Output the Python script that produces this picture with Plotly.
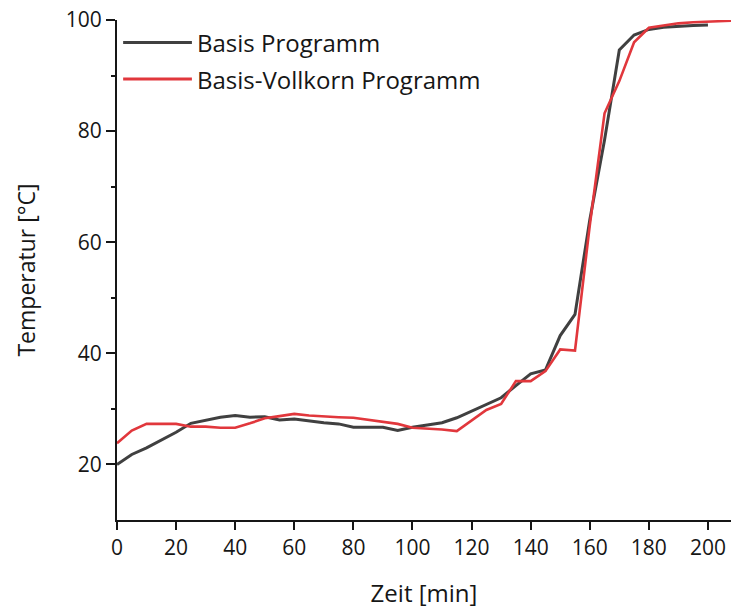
import plotly.graph_objects as go

# Zeit in Minuten (5-Minuten-Raster)
zeit_basis = [0, 5, 10, 15, 20, 25, 30, 35, 40, 45, 50, 55, 60, 65, 70, 75, 80,
              85, 90, 95, 100, 105, 110, 115, 120, 125, 130, 135, 140, 145, 150,
              155, 160, 165, 170, 175, 180, 185, 190, 195, 200]
temp_basis = [20.0, 21.8, 23.0, 24.4, 25.8, 27.4, 28.0, 28.5, 28.8, 28.5, 28.6,
              28.0, 28.2, 27.8, 27.5, 27.3, 26.7, 26.7, 26.7, 26.1, 26.7, 27.1,
              27.5, 28.4, 29.6, 30.7, 32.0, 34.2, 36.3, 37.0, 43.2, 47.0, 64.0,
              78.4, 94.6, 97.3, 98.3, 98.7, 98.9, 99.0, 99.1]

zeit_vollkorn = [0, 5, 10, 15, 20, 25, 30, 35, 40, 45, 50, 55, 60, 65, 70, 75,
                 80, 85, 90, 95, 100, 105, 110, 115, 120, 125, 130, 135, 140,
                 145, 150, 155, 160, 165, 170, 175, 180, 185, 190, 195, 200,
                 205, 210]
temp_vollkorn = [23.8, 26.1, 27.3, 27.3, 27.3, 26.8, 26.8, 26.6, 26.6, 27.4,
                 28.3, 28.7, 29.1, 28.8, 28.6, 28.5, 28.4, 28.0, 27.7, 27.3,
                 26.6, 26.5, 26.3, 26.0, 27.9, 29.8, 30.9, 35.0, 35.0, 36.8,
                 40.7, 40.5, 63.0, 83.2, 89.0, 96.0, 98.6, 99.0, 99.4, 99.6,
                 99.7, 99.8, 99.9]

serien = ["Basis Programm", "Basis-Vollkorn Programm"]
farben = ["#404040", "#e1373c"]

x_ticks = list(range(0, 201, 20))
y_ticks = [20, 40, 60, 80, 100]

FONT = "Open Sans"
TEXT = "#161616"

fig = go.Figure()
fig.add_trace(go.Scatter(x=zeit_basis, y=temp_basis, mode="lines", name=serien[0],
                         line=dict(color=farben[0], width=3)))
fig.add_trace(go.Scatter(x=zeit_vollkorn, y=temp_vollkorn, mode="lines", name=serien[1],
                         line=dict(color=farben[1], width=2.6)))

# Legende als Linienmuster + Text oben links im Diagramm
legend_y = [0.955, 0.882]
for name, farbe, ly in zip(serien, farben, legend_y):
    fig.add_shape(type="line", xref="paper", yref="paper",
                  x0=0.010, x1=0.122, y0=ly, y1=ly,
                  line=dict(color=farbe, width=3))
    fig.add_annotation(xref="paper", yref="paper", x=0.127, y=ly, text=name,
                       showarrow=False, xanchor="left", yanchor="middle",
                       font=dict(family=FONT, size=24, color=TEXT))

fig.update_layout(
    width=731, height=609,
    margin=dict(l=117, r=0, t=20, b=89),
    paper_bgcolor="white", plot_bgcolor="white",
    showlegend=False,
    font=dict(family=FONT, size=21, color=TEXT),
)
fig.update_xaxes(
    range=[0, 207.8], tickvals=x_ticks, ticks="outside", ticklen=8, tickwidth=2,
    tickcolor=TEXT, showline=True, linecolor=TEXT, linewidth=2,
    showgrid=False, zeroline=False,
    tickfont=dict(family=FONT, size=21, color=TEXT),
    title=dict(text="Zeit [min]", standoff=26,
               font=dict(family=FONT, size=24, color=TEXT)),
)
fig.update_yaxes(
    range=[10, 100], tickvals=y_ticks, ticks="outside", ticklen=9, tickwidth=2,
    tickcolor=TEXT, showline=True, linecolor=TEXT, linewidth=2,
    showgrid=False, zeroline=False,
    minor=dict(tickvals=[30, 50, 70, 90], ticks="outside", ticklen=4,
               tickwidth=2, tickcolor=TEXT),
    tickfont=dict(family=FONT, size=21, color=TEXT),
    title=dict(text="Temperatur [°C]", standoff=24,
               font=dict(family=FONT, size=23, color=TEXT)),
)

fig.write_html("out.html")
